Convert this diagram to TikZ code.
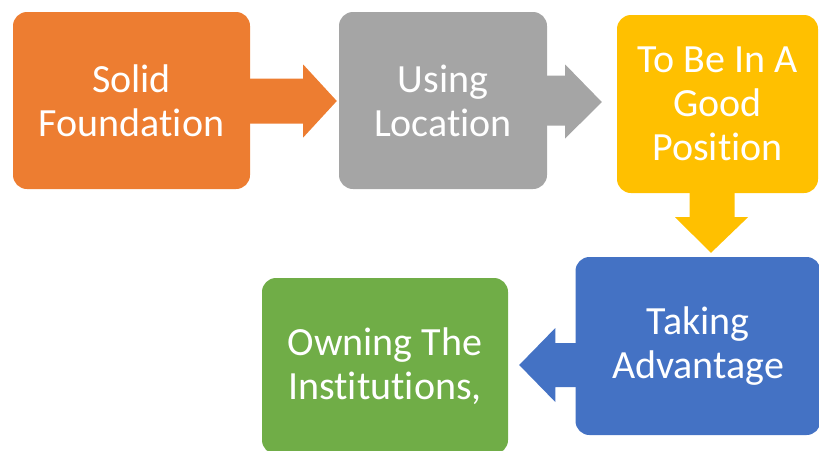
\documentclass[tikz,border=0pt]{standalone}
\usepackage{fontspec}
\setmainfont{Carlito}[Ligatures={NoCommon}]
\usetikzlibrary{calc}
\definecolor{orangeC}{HTML}{ED7D31}
\definecolor{grayC}{HTML}{A5A5A5}
\definecolor{goldC}{HTML}{FFC000}
\definecolor{blueC}{HTML}{4472C4}
\definecolor{greenC}{HTML}{70AD47}
\tikzset{
  stepbox/.style={rounded corners=14pt, inner sep=0pt, align=center,
    text=white, font=\fontsize{40}{44}\selectfont},
}
\begin{document}
\begin{tikzpicture}[x=1pt,y=-1pt]
\useasboundingbox (0,0) rectangle (819,450);
% process steps
\node[stepbox, fill=orangeC, minimum width=237pt, minimum height=177pt] (a) at (131.5,100.5) {Solid\\Foundation};
\node[stepbox, fill=grayC, minimum width=208pt, minimum height=177pt] (b) at (443,100.5) {Using\\Location};
\node[stepbox, fill=goldC, minimum width=201pt, minimum height=178pt] (c) at (717.5,104) {To Be In A\\Good\\Position};
\node[stepbox, fill=blueC, minimum width=245pt, minimum height=178pt] (d) at (698,346) {Taking\\Advantage};
\node[stepbox, fill=greenC, minimum width=246pt, minimum height=176pt] (e) at (385,366) {Owning The\\Institutions,};
% block arrows between steps
\fill[orangeC] ($(a.east)+(-1,-22)$) -- ($(a.east)+(53,-22)$) -- ($(a.east)+(53,-36)$)
  -- ($(b.west)+(-2,0.5)$) -- ($(a.east)+(53,37)$) -- ($(a.east)+(53,23)$) -- ($(a.east)+(-1,23)$) -- cycle;
\fill[grayC] ($(b.east)+(-1,-25)$) -- ($(b.east)+(18,-25)$) -- ($(b.east)+(18,-36)$)
  -- ($(c.west)+(-15,-2)$) -- ($(b.east)+(18,38)$) -- ($(b.east)+(18,25)$) -- ($(b.east)+(-1,25)$) -- cycle;
\fill[goldC] ($(c.south)+(-28,-1)$) -- ($(c.south)+(-28,24)$) -- ($(c.south)+(-42.5,24)$)
  -- ($(d.north)+(13,-4)$) -- ($(c.south)+(30.5,24)$) -- ($(c.south)+(17,24)$) -- ($(c.south)+(17,-1)$) -- cycle;
\fill[blueC] ($(d.west)+(1,-3)$) -- ($(d.west)+(-20,-3)$) -- ($(d.west)+(-20,-18)$)
  -- ($(e.east)+(11,-1)$) -- ($(d.west)+(-20,56)$) -- ($(d.west)+(-20,41)$) -- ($(d.west)+(1,41)$) -- cycle;
\end{tikzpicture}
\end{document}
